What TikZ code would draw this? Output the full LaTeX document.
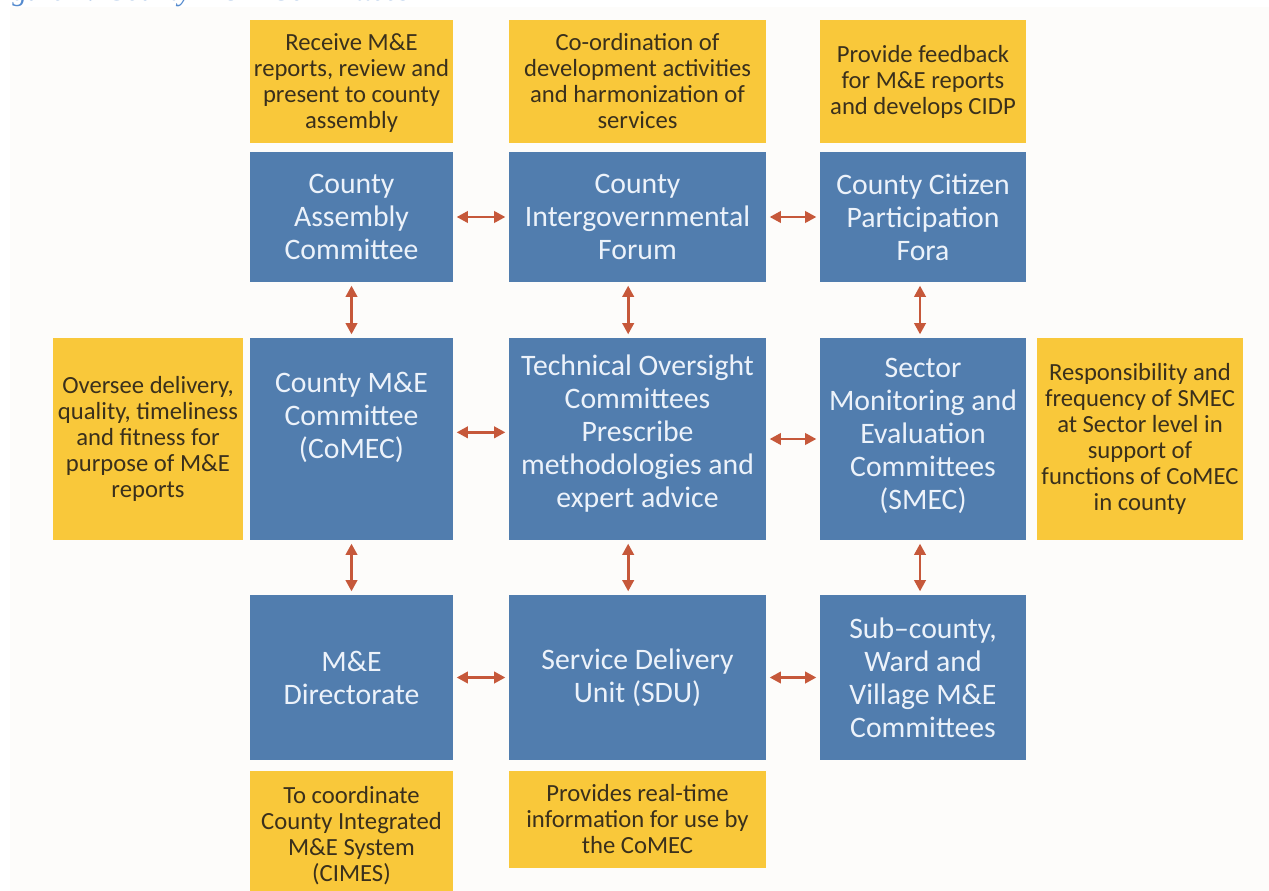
\documentclass[tikz,border=0pt]{standalone}
\usepackage{fontspec}
\setmainfont{Carlito}
\newfontfamily\capfont{Liberation Serif}
\usepackage{xcolor}
\usetikzlibrary{arrows.meta, positioning, calc}
\definecolor{boxblue}{RGB}{81,125,174}
\definecolor{boxtext}{RGB}{236,242,250}
\definecolor{noteyellow}{RGB}{249,200,58}
\definecolor{notetext}{RGB}{58,48,28}
\definecolor{linkred}{RGB}{198,88,58}
\definecolor{pagebg}{RGB}{253,252,250}
\definecolor{capblue}{RGB}{84,138,206}
\tikzset{
  bluebox/.style = {rectangle, fill=boxblue, text=boxtext, align=center, inner sep=0pt,
                    font=\fontsize{22.3}{24.75}\selectfont},
  notebox/.style = {rectangle, fill=noteyellow, text=notetext, align=center, inner sep=0pt,
                    font=\fontsize{18.5}{19.5}\selectfont},
  link/.style    = {line width=2.2pt, draw=linkred, shorten <=2.5pt, shorten >=2.5pt,
                    {Triangle[length=8.5pt,width=8.5pt]}-{Triangle[length=8.5pt,width=8.5pt]}},
}

\begin{document}
\begin{tikzpicture}[x=0.75pt, y=-0.75pt]

    %% frame and page
    \clip (0,0) rectangle (1269,891);
    \fill[white] (0,0) rectangle (1269,891);
    \fill[pagebg] (10,7) rectangle (1269,891);
    \node[anchor=base west, inner sep=0pt, text=capblue, font=\capfont\itshape\fontsize{22}{26}\selectfont]
      (caption) at (-14,1) {Figure 4: County M\&E Committees};

    %% Top notes
    \node[notebox, minimum width=152.25pt, minimum height=92.25pt] (noteAssembly) at (351.5,81.5)
      {\raisebox{-2pt}[\height][\depth]{\begin{tabular}{@{}c@{}}Receive M\&E\\reports, review and\\present to county\\assembly\end{tabular}}};
    \node[notebox, minimum width=192.75pt, minimum height=92.25pt] (noteForum) at (637.5,81.5)
      {\raisebox{-2pt}[\height][\depth]{\begin{tabular}{@{}c@{}}Co-ordination of\\development activities\\and harmonization of\\services\end{tabular}}};
    \node[notebox, minimum width=154.5pt, minimum height=92.25pt] (noteCitizen) at (923,81.5)
      {Provide feedback\\for M\&E reports\\and develops CIDP};

    %% Row 1
    \node[bluebox, minimum width=152.25pt, minimum height=97.5pt] (assembly) at (351.5,217)
      {County\\Assembly\\Committee};
    \node[bluebox, minimum width=192.75pt, minimum height=97.5pt] (forum) at (637.5,217)
      {County\\Intergovernmental\\Forum};
    \node[bluebox, minimum width=154.5pt, minimum height=97.5pt] (citizen) at (923,217)
      {County Citizen\\Participation\\Fora};

    %% Row 2
    \node[notebox, minimum width=142.5pt, minimum height=151.5pt] (noteComec) at (148,439)
      {Oversee delivery,\\quality, timeliness\\and fitness for\\purpose of M\&E\\reports};
    \node[bluebox, minimum width=152.25pt, minimum height=151.5pt] (comec) at (351.5,439)
      {\raisebox{15pt}[\height][\depth]{\begin{tabular}{@{}c@{}}County M\&E\\Committee\\(CoMEC)\end{tabular}}};
    \node[bluebox, minimum width=192.75pt, minimum height=151.5pt] (tech) at (637.5,439)
      {\raisebox{3pt}[\height][\depth]{\begin{tabular}{@{}c@{}}Technical Oversight\\Committees\\Prescribe\\methodologies and\\expert advice\end{tabular}}};
    \node[bluebox, minimum width=154.5pt, minimum height=151.5pt] (sector) at (923,439)
      {\raisebox{1.5pt}[\height][\depth]{\begin{tabular}{@{}c@{}}Sector\\Monitoring and\\Evaluation\\Committees\\(SMEC)\end{tabular}}};
    \node[notebox, minimum width=154.5pt, minimum height=151.5pt] (noteSector) at (1140,439)
      {Responsibility and\\frequency of SMEC\\at Sector level in\\support of\\functions of CoMEC\\in county};

    %% Row 3
    \node[bluebox, minimum width=152.25pt, minimum height=123.75pt] (directorate) at (351.5,677.5)
      {M\&E\\Directorate};
    \node[bluebox, minimum width=192.75pt, minimum height=123.75pt] (sdu) at (637.5,677.5)
      {Service Delivery\\Unit (SDU)};
    \node[bluebox, minimum width=154.5pt, minimum height=123.75pt] (subcounty) at (923,677.5)
      {Sub--county,\\Ward and\\Village M\&E\\Committees};

    %% Bottom notes
    \node[notebox, minimum width=152.25pt, minimum height=96.75pt] (noteDirectorate) at (351.5,835.5)
      {To coordinate\\County Integrated\\M\&E System\\(CIMES)};
    \node[notebox, minimum width=192.75pt, minimum height=72.75pt] (noteSdu) at (637.5,819.5)
      {Provides real-time\\information for use by\\the CoMEC};

    %% Links
    \draw[link] (assembly.east) -- (forum.west);
    \draw[link] (forum.east) -- (citizen.west);
    \draw[link] ([yshift=5pt]comec.east) -- ([yshift=5pt]tech.west);
    \draw[link] (tech.east) -- (sector.west);
    \draw[link] (directorate.east) -- (sdu.west);
    \draw[link] (sdu.east) -- (subcounty.west);

    \draw[link] (assembly.south) -- (comec.north);
    \draw[link] ([xshift=-7pt]forum.south) -- ([xshift=-7pt]tech.north);
    \draw[link] ([xshift=-2.25pt]citizen.south) -- ([xshift=-2.25pt]sector.north);
    \draw[link] (comec.south) -- (directorate.north);
    \draw[link] ([xshift=-7pt]tech.south) -- ([xshift=-7pt]sdu.north);
    \draw[link] ([xshift=-2.25pt]sector.south) -- ([xshift=-2.25pt]subcounty.north);

  \end{tikzpicture}
\end{document}
